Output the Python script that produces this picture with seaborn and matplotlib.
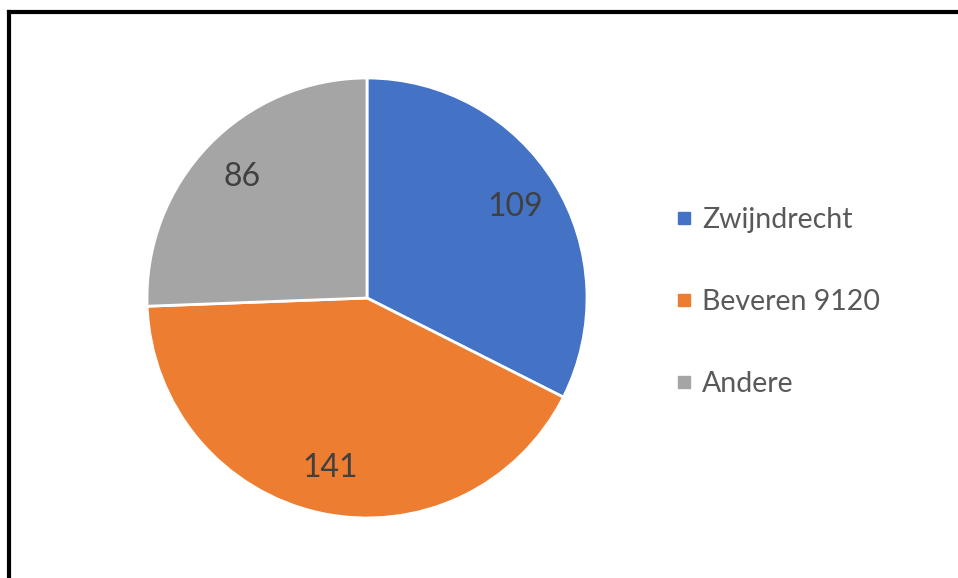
import matplotlib
matplotlib.use("Agg")
import matplotlib.pyplot as plt
import seaborn as sns
from matplotlib.lines import Line2D

categories = ["Zwijndrecht", "Beveren 9120", "Andere"]
values = [109, 141, 86]
colors = ["#4472C4", "#ED7D31", "#A5A5A5"]

sns.set_theme(style="white")
plt.rcParams['font.family'] = ['Lato', 'DejaVu Sans']

fig = plt.figure(figsize=(9.58, 5.78), dpi=100)
W, H = 958, 578
cx, cy, r = 367, 298, 220
ax = fig.add_axes([(cx - r) / W, (H - cy - r) / H, 2 * r / W, 2 * r / H])

wedges, texts, autotexts = ax.pie(
    values, colors=colors, startangle=90, counterclock=False, radius=1,
    autopct=lambda p: f"{round(p * sum(values) / 100):d}", pctdistance=0.79,
    wedgeprops=dict(edgecolor="white", linewidth=2),
    textprops=dict(fontsize=23, color="#404040"))
ax.set_xlim(-1, 1)
ax.set_ylim(-1, 1)
ax.set_aspect("equal")
ax.axis("off")

handles = [Line2D([0], [0], marker="s", linestyle="", markersize=8.5,
                  markerfacecolor=c, markeredgecolor=c) for c in colors]
leg = fig.legend(handles, categories, loc="center left",
                 bbox_to_anchor=(661 / W, 1 - 302 / H), frameon=False,
                 fontsize=20.5, labelspacing=1.97, handletextpad=0.25,
                 handlelength=0.8, borderaxespad=0)
for t in leg.get_texts():
    t.set_color("#595959")

# partial frame (left and top)
fig.add_artist(Line2D([9 / W, 9 / W], [0, 1 - 11.5 / H], transform=fig.transFigure,
                      color="black", linewidth=3, solid_capstyle="projecting"))
fig.add_artist(Line2D([9 / W, 1], [1 - 11.5 / H, 1 - 11.5 / H], transform=fig.transFigure,
                      color="black", linewidth=3, solid_capstyle="projecting"))

fig.savefig("out.png", dpi=100)
